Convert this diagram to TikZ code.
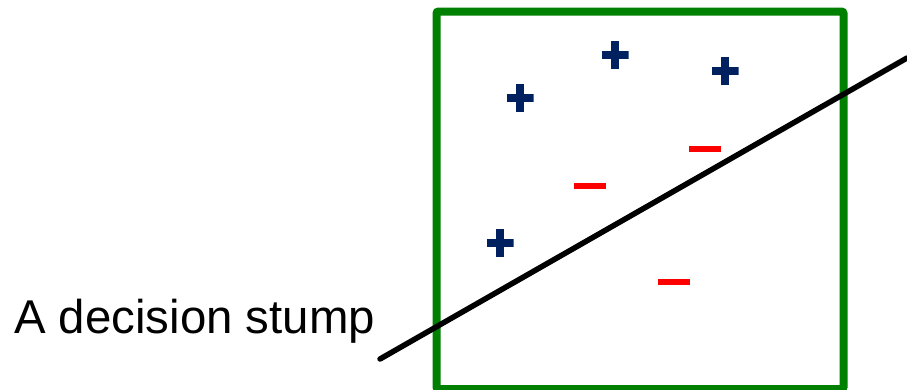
\documentclass[tikz,border=0pt]{standalone}
\usepackage{fontspec}
\setmainfont{Liberation Sans}
\usepackage{tikz}
\definecolor{posblue}{HTML}{002060}
\definecolor{boxgreen}{HTML}{008000}
\definecolor{negred}{HTML}{FF0000}

\begin{document}
\begin{tikzpicture}[
  x=1pt, y=-1pt,
  plusmark/.style={minimum width=27pt, minimum height=28pt, inner sep=0pt,
              path picture={\draw[posblue, line width=8pt]
                (path picture bounding box.north) -- (path picture bounding box.south)
                (path picture bounding box.west) -- (path picture bounding box.east);}},
  minusmark/.style={rectangle, fill=negred, minimum width=32pt, minimum height=6pt,
              inner sep=0pt},
  stumptext/.style={inner sep=0pt, font=\fontsize{47.4}{56}\selectfont}
]
\useasboundingbox (0,0) rectangle (907,389);
\draw[boxgreen, line width=8pt, rounded corners=2pt] (436.5,11.5) rectangle (843.5,389);
% positive examples
\node[plusmark] (p1) at (520,98) {};
\node[plusmark] (p2) at (615,55) {};
\node[plusmark] (p3) at (725,70.5) {};
\node[plusmark] (p4) at (500,243) {};
% negative examples
\node[minusmark] (n1) at (590,186) {};
\node[minusmark] (n2) at (705,149) {};
\node[minusmark] (n3) at (674,282) {};
% the stump
\coordinate (s1) at (380,359);
\coordinate (s2) at (907,58);
\draw[line width=5.5pt, line cap=round] (s1) -- (s2);
\node[stumptext, anchor=base west] (lab) at (14,333) {A decision stump};
\end{tikzpicture}
\end{document}
